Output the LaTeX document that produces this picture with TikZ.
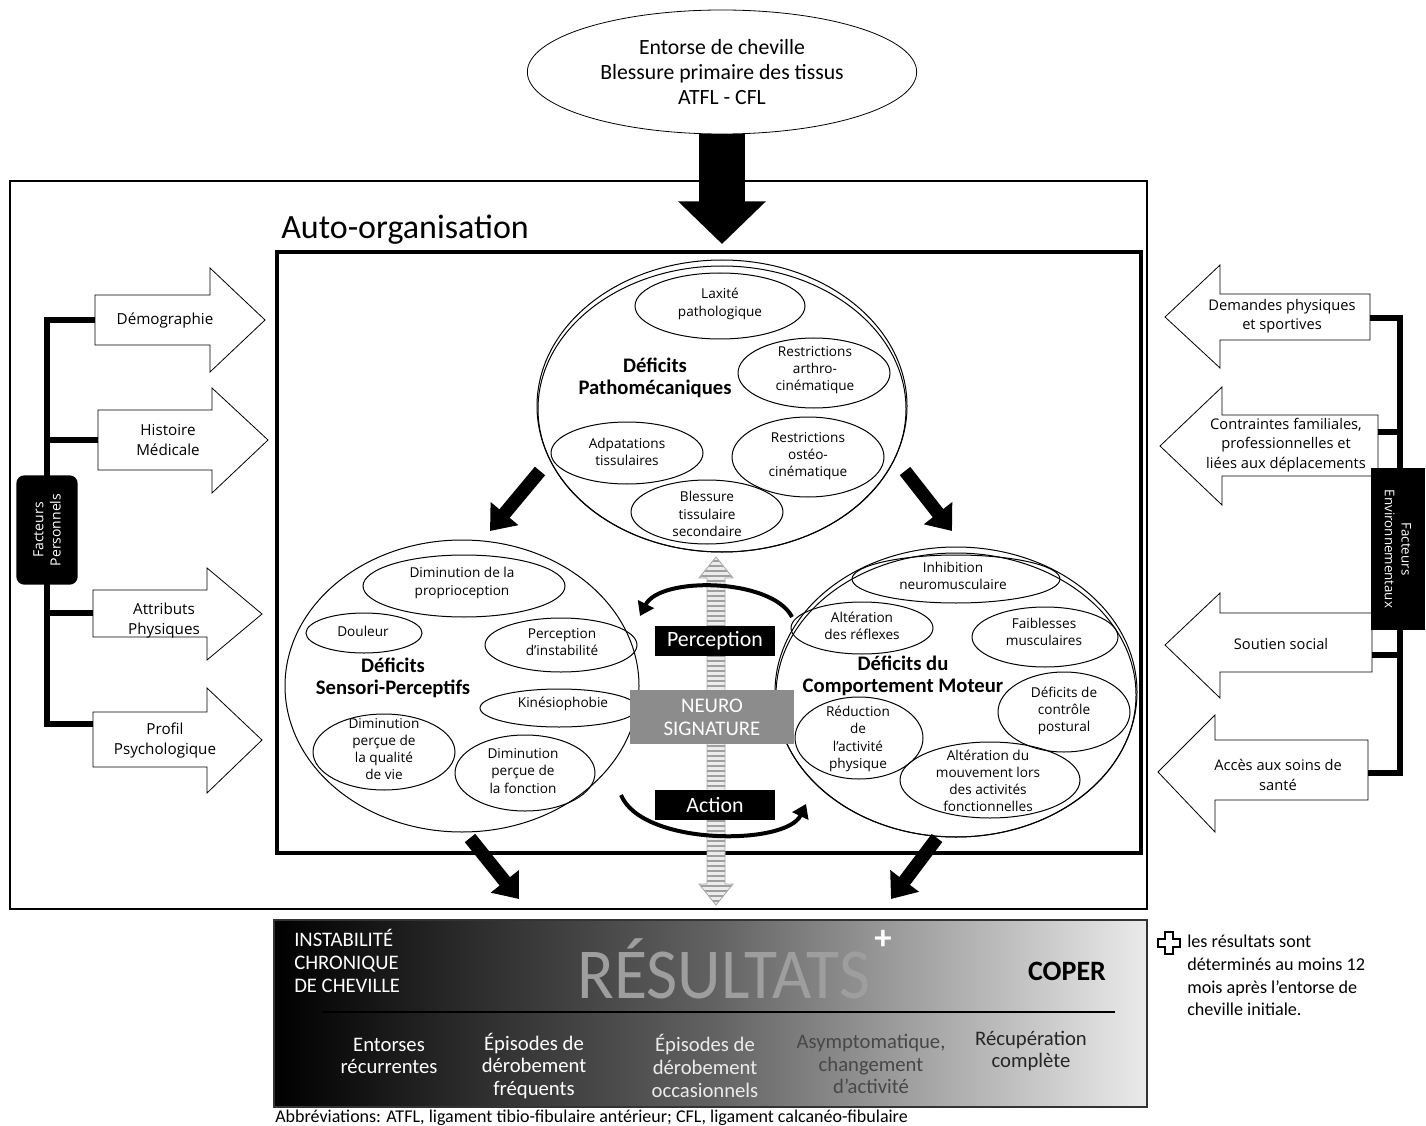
\documentclass[tikz,border=0pt]{standalone}
\usepackage{fontspec}
\setmainfont{Carlito}
\newfontfamily\segoe{Open Sans}
\usepackage{xcolor}
\definecolor{neurogray}{HTML}{8C8C8C}
\usetikzlibrary{arrows.meta,shapes.geometric}
\tikzset{
	bubble/.style={line width=0.75pt},
	subtxt/.style={font=\segoe\fontsize{10.2}{12.9}\selectfont, align=center, inner sep=0pt},
	titletxt/.style={font=\bfseries\fontsize{15.5}{17}\selectfont, align=center, inner sep=0pt},
	sidetxt/.style={font=\segoe\fontsize{11.4}{15}\selectfont, align=center, inner sep=0pt},
	envtxt/.style={font=\segoe\fontsize{11}{14.6}\selectfont, align=center, inner sep=0pt},
	hollow/.style={draw, line width=0.6pt, fill=white},
	bar/.style={line width=5pt},
	fat/.style={line width=10pt, -{Triangle[width=26pt,length=17pt]}},
	curv/.style={line width=3pt, -{Triangle[width=13pt,length=10pt]}},
	blk/.style={fill=black, text=white, inner sep=0pt, font=\fontsize{16.4}{18}\selectfont},
	restxt/.style={font=\fontsize{15.5}{17}\selectfont, align=center, inner sep=0pt},
}
\begin{document}
\begin{tikzpicture}[x=0.75pt,y=0.75pt,yscale=-1,xscale=1]
	\useasboundingbox (0,0) rectangle (1426,1126);
	% injury
	\node[draw, ellipse, line width=0.6pt, minimum width=292pt, minimum height=93pt, inner sep=0pt, align=center, font=\fontsize{16.3}{19}\selectfont] (inj) at (722,72) {Entorse de cheville\\Blessure primaire des tissus\\ATFL - CFL};
	\coordinate (inj-in) at (722,244);
	% frames
	\draw[line width=1.5pt] (10,181) rectangle (1147,909);
	\draw[line width=3pt] (277,252) rectangle (1141,853);
	\node[anchor=west, inner sep=0pt, font=\fontsize{25.5}{28}\selectfont] (auto) at (281,230) {Auto-organisation};
	\draw[line width=34pt, -{Triangle[width=64pt,length=32pt]}] (inj.south) -- (inj-in);
	% pathomechanical
	\draw[bubble] (722,406) ellipse (185 and 146);
	\draw[bubble] (722,409) ellipse (184 and 143);
	\draw[bubble] (720,306) ellipse (85 and 33);
	\draw[bubble] (814,373) ellipse (76 and 35);
	\draw[bubble] (627,453) ellipse (76 and 31);
	\draw[bubble] (808,457) ellipse (76 and 40);
	\draw[bubble] (707,512) ellipse (76 and 32);
	\node[titletxt] (patho) at (655,378) {Déficits\\Pathomécaniques};
	\node[subtxt] (lax) at (720,304) {Laxité\\pathologique};
	\node[subtxt] (arthro) at (815,370) {Restrictions\\arthro-\\cinématique};
	\node[subtxt] (adapt) at (627,452) {Adpatations\\tissulaires};
	\node[subtxt] (osteo) at (808,456) {Restrictions\\ostéo-\\cinématique};
	\node[subtxt] (bless) at (707,514) {Blessure\\tissulaire\\secondaire};
	% sensori-perceptual
	\draw[bubble] (462,686) ellipse (177 and 146);
	\draw[bubble] (464,586) ellipse (101 and 31);
	\draw[bubble] (364,633) ellipse (58 and 20);
	\draw[bubble] (561,645) ellipse (76 and 27);
	\draw[bubble] (559,708) ellipse (79 and 19);
	\draw[bubble] (384,752) ellipse (71 and 38);
	\draw[bubble] (525,773) ellipse (70 and 38);
	\node[titletxt] (senso) at (393,678) {Déficits\\Sensori-Perceptifs};
	\node[subtxt] (prop) at (462,583) {Diminution de la\\proprioception};
	\node[subtxt] (pain) at (363,631) {Douleur};
	\node[subtxt] (instab) at (562,642) {Perception\\d’instabilité};
	\node[subtxt] (kines) at (563,704) {Kinésiophobie};
	\node[subtxt] (qol) at (384,749) {Diminution\\perçue de\\la qualité\\de vie};
	\node[subtxt] (func) at (523,771) {Diminution\\perçue de\\la fonction};
	% motor behaviour
	\draw[bubble] (956,692) ellipse (181 and 145);
	\draw[bubble] (956,695) ellipse (180 and 142);
	\draw[bubble] (956,579) ellipse (104 and 24);
	\draw[bubble] (862,628) ellipse (71 and 26);
	\draw[bubble] (1045,637) ellipse (73 and 30);
	\draw[bubble] (1064,712) ellipse (66 and 40);
	\draw[bubble] (859,738) ellipse (64 and 41);
	\draw[bubble] (990,780) ellipse (90 and 38);
	\node[titletxt] (motor) at (903,676) {Déficits du\\Comportement Moteur};
	\node[subtxt] (inhib) at (953,576) {Inhibition\\neuromusculaire};
	\node[subtxt] (reflex) at (862,626) {Altération\\des réflexes};
	\node[subtxt] (weak) at (1044,632) {Faiblesses\\musculaires};
	\node[subtxt] (post) at (1064,711) {Déficits de\\contrôle\\postural};
	\node[subtxt] (reduc) at (858,739) {Réduction\\de\\l’activité\\physique};
	\node[subtxt] (mouv) at (988,781) {Altération du\\mouvement lors\\des activités\\fonctionnelles};
	% arrows between deficits
	\coordinate (pl-a) at (540,471);
	\coordinate (pl-b) at (490,531);
	\coordinate (pr-a) at (905,471);
	\coordinate (pr-b) at (952,531);
	\coordinate (ol-a) at (470,838);
	\coordinate (ol-b) at (519,899);
	\coordinate (or-a) at (937,838);
	\coordinate (or-b) at (891,899);
	\draw[fat] (pl-a) -- (pl-b);
	\draw[fat] (pr-a) -- (pr-b);
	\draw[fat] (ol-a) -- (ol-b);
	\draw[fat] (or-a) -- (or-b);
	% neurosignature axis
	\begin{scope}
		\clip (716,557) -- (733,578) -- (725,578) -- (725,884) -- (733,884) -- (716,905) -- (699,884) -- (707,884) -- (707,578) -- (699,578) -- cycle;
		\fill[gray!15] (690,550) rectangle (740,910);
		\foreach \y in {561,566,...,905} \draw[gray!75, line width=1.4pt] (690,\y) -- (740,\y);
	\end{scope}
	\draw[gray!70, line width=0.6pt] (716,557) -- (733,578) -- (725,578) -- (725,884) -- (733,884) -- (716,905) -- (699,884) -- (707,884) -- (707,578) -- (699,578) -- cycle;
	\coordinate (arc-a) at (792,617);
	\coordinate (arc-b) at (640,616);
	\coordinate (arc-c) at (621,795);
	\coordinate (arc-d) at (806,804);
	\draw[curv] (arc-a) .. controls (772,578) and (660,576) .. (arc-b);
	\draw[curv] (arc-c) .. controls (642,846) and (786,846) .. (arc-d);
	\node[blk, minimum width=90pt, minimum height=22pt] (perc) at (715,641) {Perception};
	\node[fill=neurogray, text=white, minimum width=123pt, minimum height=41pt, inner sep=0pt, align=center, font=\fontsize{15.6}{17.5}\selectfont] (neuro) at (712,717) {NEURO\\SIGNATURE};
	\node[blk, minimum width=90pt, minimum height=22.5pt] (act) at (715,805) {Action};
	% personal factors
	\draw[hollow] (95,295) -- (210,295) -- (210,268) -- (265,320) -- (210,372) -- (210,345) -- (95,345) -- cycle;
	\draw[hollow] (98,410) -- (212,410) -- (212,388) -- (268,440) -- (212,493) -- (212,470) -- (98,470) -- cycle;
	\draw[hollow] (93,590) -- (207,590) -- (207,568) -- (262,614) -- (207,660) -- (207,637) -- (93,637) -- cycle;
	\draw[hollow] (93,712) -- (207,712) -- (207,688) -- (262,740) -- (207,793) -- (207,767) -- (93,767) -- cycle;
	\node[sidetxt] (demo) at (165,321) {Démographie};
	\node[sidetxt] (hist) at (168,440) {Histoire\\Médicale};
	\node[sidetxt] (attr) at (164,621) {Attributs\\Physiques};
	\node[sidetxt] (prof) at (165,741) {Profil\\Psychologique};
	\coordinate (demo-t) at (95,320);
	\coordinate (hist-t) at (98,440);
	\coordinate (attr-t) at (93,613);
	\coordinate (prof-t) at (93,724);
	\coordinate (pers-c) at (47,530);
	\draw[bar] (pers-c) |- (demo-t);
	\draw[bar] (pers-c) |- (hist-t);
	\draw[bar] (pers-c) |- (attr-t);
	\draw[bar] (pers-c) |- (prof-t);
	\node[fill=black, rounded corners=6pt, rotate=90, minimum width=82pt, minimum height=46pt, inner sep=0pt, align=center, text=white, font=\segoe\fontsize{10.5}{13}\selectfont] (pers) at (pers-c) {Facteurs\\Personnels};
	% environmental factors
	\draw[hollow] (1370,294) -- (1220,294) -- (1220,265) -- (1165,317) -- (1220,368) -- (1220,340) -- (1370,340) -- cycle;
	\draw[hollow] (1378,415) -- (1222,415) -- (1222,387) -- (1160,446) -- (1222,505) -- (1222,476) -- (1378,476) -- cycle;
	\draw[hollow] (1372,613) -- (1220,613) -- (1220,593) -- (1165,645) -- (1220,698) -- (1220,672) -- (1372,672) -- cycle;
	\draw[hollow] (1368,740) -- (1215,740) -- (1215,715) -- (1158,772) -- (1215,832) -- (1215,800) -- (1368,800) -- cycle;
	\node[envtxt] (sport) at (1282,316) {Demandes physiques\\et sportives};
	\node[envtxt] (constr) at (1286,445) {Contraintes familiales,\\professionnelles et\\liées aux déplacements};
	\node[envtxt] (social) at (1281,644) {Soutien social};
	\node[envtxt] (care) at (1278,775) {Accès aux soins de\\santé};
	\coordinate (sport-t) at (1370,318);
	\coordinate (constr-t) at (1378,432);
	\coordinate (social-t) at (1372,655);
	\coordinate (care-t) at (1368,773);
	\coordinate (env-c) at (1400,549);
	\draw[bar] (env-c) |- (sport-t);
	\draw[bar] (env-c) |- (constr-t);
	\draw[bar] (env-c) |- (social-t);
	\draw[bar] (env-c) |- (care-t);
	\node[fill=black, rotate=-90, minimum width=121pt, minimum height=40pt, inner sep=0pt, align=center, text=white, font=\segoe\fontsize{10}{12.5}\selectfont] (env) at (1398,549) {Facteurs\\Environnementaux};
	% outcomes
	\shade[left color=black, right color=black!8, middle color=black!62] (274,920) rectangle (1147,1107);
	\draw[line width=0.8pt, black!80] (274,920) rectangle (1147,1107);
	\node[anchor=north west, align=left, inner sep=0pt, text=white, font=\fontsize{15.5}{17.3}\selectfont] (cai) at (294,929) {INSTABILITÉ\\CHRONIQUE\\DE CHEVILLE};
	\node[inner sep=0pt, text=black!38, font=\fontsize{48}{50}\selectfont] (res) at (724,969) {\scalebox{1.06}[1.12]{RÉSULTATS}};
	\node[inner sep=0pt, text=white, font=\bfseries\fontsize{26}{28}\selectfont] (resplus) at (883,940) {+};
	\node[inner sep=0pt, font=\bfseries\fontsize{21}{23}\selectfont] (coper) at (1067,971) {COPER};
	\coordinate (rl-a) at (322,1012);
	\coordinate (rl-b) at (1115,1012);
	\draw[line width=1.2pt] (rl-a) -- (rl-b);
	\node[restxt, text=white] (recur) at (389,1056) {Entorses\\récurrentes};
	\node[restxt, text=white] (freq) at (534,1066) {Épisodes de\\dérobement\\fréquents};
	\node[restxt, text=black!8] (occas) at (705,1066) {Épisodes de\\dérobement\\occasionnels};
	\node[restxt, text=black!72] (asym) at (871,1064) {Asymptomatique,\\changement\\d’activité};
	\node[restxt, text=black!85] (recup) at (1031,1051) {Récupération\\complète};
	\node[anchor=west, inner sep=0pt, font=\fontsize{13.5}{15}\selectfont] (abbr) at (275,1118) {Abbréviations: ATFL, ligament tibio-fibulaire antérieur; CFL, ligament calcanéo-fibulaire};
	% note
	\draw[line width=0.8pt] (1165,932) -- (1173,932) -- (1173,939) -- (1180,939) -- (1180,947) -- (1173,947) -- (1173,954) -- (1165,954) -- (1165,947) -- (1158,947) -- (1158,939) -- (1165,939) -- cycle;
	\node[anchor=north west, align=left, inner sep=0pt, font=\fontsize{13.6}{17}\selectfont] (note) at (1187,935) {les résultats sont\\déterminés au moins 12\\mois après l’entorse de\\cheville initiale.};
\end{tikzpicture}
\end{document}
